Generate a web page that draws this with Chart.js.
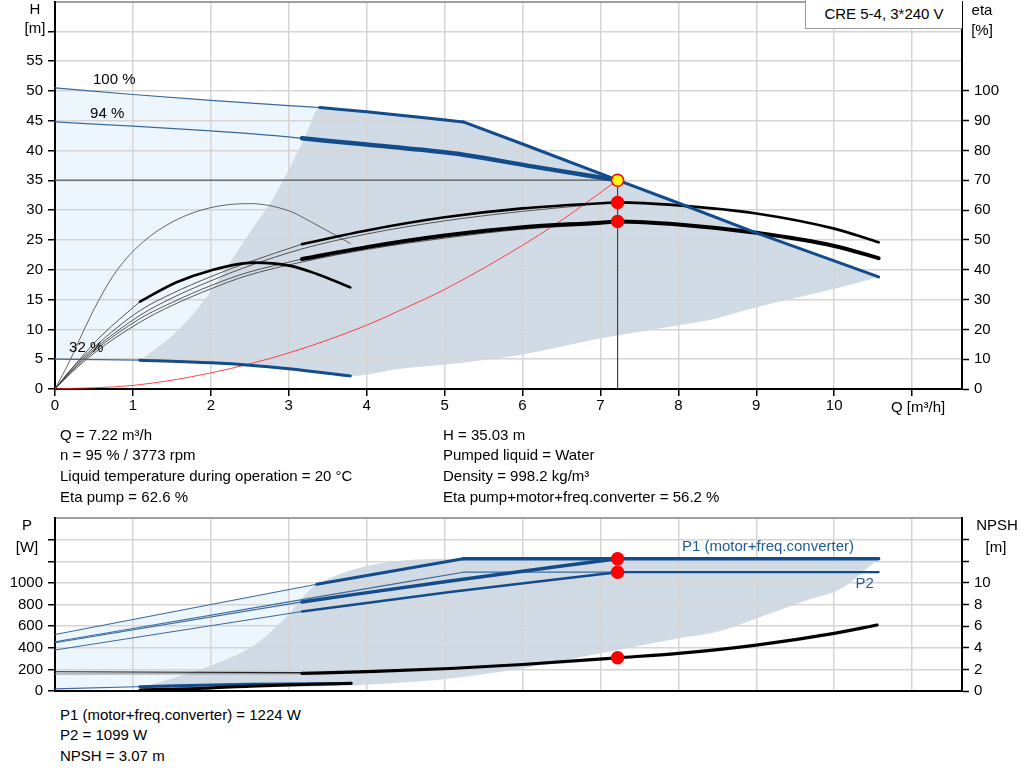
<!DOCTYPE html>
<html><head><meta charset="utf-8">
<script src="https://cdn.jsdelivr.net/npm/chart.js@4.4.1/dist/chart.umd.min.js"></script>
<style>
html,body{margin:0;padding:0;background:#fff;width:1024px;height:781px;overflow:hidden;font-family:"Liberation Sans",Arial,sans-serif;}
canvas{position:absolute;left:0;display:block;}
#top{top:-6px;}
#bot{top:510px;}
.t{position:absolute;font-size:15px;color:#000;white-space:nowrap;line-height:18px;}
.c{text-align:center;}
#box{position:absolute;left:805px;top:0;width:156px;height:28px;border:1px solid #9a9a9a;border-top:none;border-right:none;background:#fff;font-size:15px;line-height:28px;text-align:center;z-index:3;}
</style></head><body>
<canvas id="top" width="1024" height="435" style="width:1024px;height:435px"></canvas>
<canvas id="bot" width="1024" height="190" style="width:1024px;height:190px"></canvas>
<div id="box">CRE 5-4, 3*240 V</div>
<div class="t c" style="left:15px;top:0px;width:40px">H</div>
<div class="t c" style="left:15px;top:19px;width:40px">[m]</div>
<div class="t c" style="left:962px;top:1px;width:40px">eta</div>
<div class="t c" style="left:962px;top:21px;width:40px">[%]</div>
<div class="t" style="left:891px;top:398px">Q [m³/h]</div>
<div class="t" style="left:60px;top:426px">Q = 7.22 m³/h</div>
<div class="t" style="left:60px;top:446px">n = 95 % / 3773 rpm</div>
<div class="t" style="left:60px;top:467px">Liquid temperature during operation = 20 °C</div>
<div class="t" style="left:60px;top:488px">Eta pump = 62.6 %</div>
<div class="t" style="left:443px;top:426px">H = 35.03 m</div>
<div class="t" style="left:443px;top:446px">Pumped liquid = Water</div>
<div class="t" style="left:443px;top:467px">Density = 998.2 kg/m³</div>
<div class="t" style="left:443px;top:488px">Eta pump+motor+freq.converter = 56.2 %</div>
<div class="t c" style="left:7px;top:516px;width:40px">P</div>
<div class="t c" style="left:7px;top:538px;width:40px">[W]</div>
<div class="t c" style="left:972px;top:516px;width:50px">NPSH</div>
<div class="t c" style="left:971px;top:538px;width:50px">[m]</div>
<div class="t" style="left:60px;top:706px">P1 (motor+freq.converter) = 1224 W</div>
<div class="t" style="left:60px;top:726px">P2 = 1099 W</div>
<div class="t" style="left:60px;top:747px">NPSH = 3.07 m</div>
<script>
// ================= DATA =================
// --- top chart: head H [m] vs flow Q [m3/h] ---
const speed100Q = [0, 1, 2, 3, 3.4, 4, 5.24];
const speed100H = [50.5, 49.4, 48.4, 47.55, 47.2, 46.5, 44.8];
const limitQ = [5.24, 6, 7.22, 8, 9, 10, 10.57];
const limitH = [44.8, 41.1, 35.03, 31.2, 26.2, 21.5, 18.8];
const speed94Q = [0, 1, 2, 3, 3.17, 4, 5, 5.24, 6.14, 7.22];
const speed94H = [44.8, 44.1, 43.3, 42.3, 42.05, 41.0, 39.7, 39.3, 37.3, 35.03];
const speed32Q = [0, 1.09, 2, 2.5, 3, 3.79];
const speed32H = [5.0, 4.83, 4.4, 4.0, 3.4, 2.2];
const minSpeedQ = [1.09, 1.5, 1.85, 2.1, 2.46, 2.8, 2.93, 3.2, 3.4];
const minSpeedH = [4.83, 8.9, 13.8, 18.3, 25.5, 32, 35, 42, 47.2];
const lowerQ = [3.79, 4.43, 5, 6, 7, 8, 8.47, 9, 10, 10.57];
const lowerH = [2.2, 3.4, 4.1, 5.8, 8.5, 10.7, 11.8, 13.7, 16.8, 18.8];
const systemQ = [0, 1, 2, 3, 4, 4.43, 5, 6, 6.5, 7.22];
const systemH = [0, 0.6, 2.7, 6.05, 10.7, 13.2, 16.7, 24.1, 28.3, 35.03];
// efficiency eta [%]
const etaPumpQ = [3.17, 4, 5, 6, 7, 7.22, 8, 9, 10, 10.57];
const etaPump = [48.6, 53.2, 57.6, 60.6, 62.3, 62.6, 61.6, 58.9, 53.8, 49.2];
const etaPumpThinQ = [0, 0.2, 0.5, 1.09, 1.5, 2, 2.46, 3.17];
const etaPumpThin = [0, 6.4, 14, 26.3, 32, 37.7, 42.3, 48.6];
const etaPump94Q = [0, 0.2, 0.5, 1.09, 1.5, 2, 2.46, 3.17, 4, 5, 6, 6.8];
const etaPump94 = [0, 6, 13.3, 24.7, 30.5, 36.3, 41, 47, 52, 56.4, 59.6, 61.6];
const etaTotalQ = [3.17, 4, 5, 6, 7, 7.22, 8, 9, 10, 10.57];
const etaTotal = [43.6, 47.6, 51.5, 54.3, 55.8, 56.2, 55.2, 52.4, 48, 43.9];
const etaTotalThinQ = [0, 0.2, 0.5, 1.09, 1.5, 2, 2.46, 3.17];
const etaTotalThin = [0, 5.6, 12.7, 23.6, 29, 34.7, 39, 43.6];
const etaTotal94Q = [0, 0.2, 0.5, 1.09, 1.5, 2, 2.46, 3.17, 4, 5, 6, 7];
const etaTotal94 = [0, 5.2, 12, 22.4, 28, 33.6, 38, 42.6, 46.8, 50.6, 53.6, 55.2];
const eta32PumpQ = [0, 0.2, 0.35, 0.56, 0.8, 1.12, 1.54, 1.99, 2.5, 3.0, 3.27, 3.79];
const eta32Pump = [0, 10, 18.6, 29.7, 40, 49.1, 56.5, 60.8, 62.2, 59.8, 56.3, 48.8];
const eta32TotalQ = [1.09, 1.56, 1.99, 2.55, 3.02, 3.36, 3.79];
const eta32Total = [29.3, 35.8, 39.7, 42.4, 41.3, 38.6, 34.1];
const eta32TotalThinQ = [0, 0.3, 0.6, 1.09];
const eta32TotalThin = [0, 9.5, 18, 29.3];
// duty point
const dutyQ = 7.22, dutyH = 35.03, dutyEtaPump = 62.6, dutyEtaTotal = 56.2;
const curveLabels = ['100 %', '94 %', '32 %'];
const curveLabelQ = [0.76, 0.67, 0.40];
const curveLabelH = [51.8, 46.1, 6.85];

// --- bottom chart: power P [W] and NPSH [m] vs Q ---
const p1Speed100Q = [0, 1.5, 3.36, 5.24];
const p1Speed100 = [523, 730, 988, 1224];
const p1LimitQ = [5.24, 10.57];
const p1Limit = [1224, 1224];
const p2Speed100Q = [0, 3.17, 5.24];
const p2Speed100 = [455, 845, 1099];
const p2LimitQ = [5.24, 7.22, 10.57];
const p2Limit = [1099, 1099, 1099];
const p1Speed94Q = [0, 3.17, 5.07, 7.22];
const p1Speed94 = [446, 824, 1018, 1224];
const p2Speed94Q = [0, 3.17, 5.07, 7.22];
const p2Speed94 = [379, 735, 915, 1099];
const p1Speed32Q = [0, 1.09, 2.5, 3.8];
const p1Speed32 = [20, 40, 62, 70];
const minSpeedPQ = [1.09, 1.43, 2.07, 2.59, 2.97, 3.36];
const minSpeedP = [25, 100, 255, 440, 686, 988];
const minPowerQ = [0, 1.09, 2.5, 3.8];
const minPower = [12, 25, 35, 50];
const lowerPQ = [3.8, 4.5, 5.07, 6, 7, 8, 8.5, 9, 9.65, 10.07, 10.57];
const lowerP = [50, 80, 115, 210, 348, 487, 548, 671, 840, 940, 1224];
const npshQ = [3.17, 4, 5.07, 6, 7.22, 8, 9, 10, 10.55];
const npsh = [1.63, 1.8, 2.08, 2.45, 3.07, 3.48, 4.25, 5.33, 6.1];
const npshThinQ = [0, 3.17];
const npshThin = [1.78, 1.7];
const npshThin2 = [1.57, 1.6];
const npsh32Q = [1.09, 2, 2.5, 3.2, 3.8];
const npsh32 = [0.1, 0.28, 0.45, 0.6, 0.72];
const dutyP1 = 1224, dutyP2 = 1099, dutyNpsh = 3.07;
const powerLabels = ['P1 (motor+freq.converter)', 'P2'];
const powerLabelQ = [9.15, 10.39];
const powerLabelP = [1332, 990];

// ================= HELPERS =================
const F = '"Liberation Sans", Arial, sans-serif';
Chart.defaults.font.family = F;
Chart.defaults.font.size = 15;
Chart.defaults.color = '#000';
Chart.defaults.animation = false;

const BLUE = '#124c8a', BLUE_T = '#3a6a9c', BLACK = '#000', THIN = '#444';
const GRID = '#d5d5d5', LIGHT = '#eef6fd', GREY = '#d0dbe6';

function pts(q, v) { return q.map((x, i) => ({ x: x, y: v[i] })); }
function ln(data, color, width, axis, extra) {
  return Object.assign({ type: 'line', data: data, borderColor: color, borderWidth: width,
    pointRadius: 0, pointHoverRadius: 0, fill: false, yAxisID: axis,
    cubicInterpolationMode: 'monotone', borderCapStyle: 'round', borderJoinStyle: 'round' }, extra || {});
}
function dot(x, y, axis, bg, bc) {
  return { type: 'line', data: [{ x: x, y: y }], showLine: false, pointRadius: 6, pointBorderWidth: 1.5,
    pointBackgroundColor: bg, pointBorderColor: bc, backgroundColor: bg, borderColor: bc, fill: false, yAxisID: axis, order: -1 };
}
function textPlugin(texts, qs, vs, axis, color) {
  return { id: 'txt', afterDatasetsDraw(chart) {
    const ctx = chart.ctx, xs = chart.scales.x, ys = chart.scales[axis];
    ctx.save(); ctx.font = '15px ' + F; ctx.fillStyle = color;
    ctx.textAlign = 'center'; ctx.textBaseline = 'middle';
    texts.forEach((t, i) => ctx.fillText(t, xs.getPixelForValue(qs[i]), ys.getPixelForValue(vs[i])));
    ctx.restore();
  } };
}
function noPad(s) { s.paddingTop = 0; s.paddingBottom = 0; s.paddingLeft = 0; s.paddingRight = 0; }
function xScale(h, showTicks) {
  return { type: 'linear', min: 0, max: 11.64, position: 'bottom',
    ticks: { display: showTicks, stepSize: 1, includeBounds: false, autoSkip: false, maxRotation: 0, padding: 1,
      callback: v => (v === 11 ? '' : String(v)) },
    grid: { color: GRID, lineWidth: 1.5, drawTicks: showTicks, tickLength: 7, tickColor: '#000', tickWidth: 1.5 },
    border: { color: '#000', width: 2 },
    afterFit: s => { s.height = h; noPad(s); } };
}
function yScale(pos, max, step, labelMax, tickMax, w, grid) {
  return { type: 'linear', position: pos, min: 0, max: max,
    ticks: { stepSize: step, includeBounds: false, autoSkip: false, padding: 5,
      callback: v => (v <= labelMax ? String(v) : '') },
    grid: grid ? { color: c => (c.tick && c.tick.value >= max ? '#a0a0a0' : GRID), lineWidth: c => (c.tick && c.tick.value >= max ? 2 : 1.5),
      tickLength: 7, tickWidth: 1.5, tickColor: c => (c.tick && c.tick.value <= tickMax ? '#000' : 'rgba(0,0,0,0)') }
      : { drawOnChartArea: false, tickLength: 7, tickWidth: 1.5, tickColor: c => (c.tick && c.tick.value <= tickMax ? '#000' : 'rgba(0,0,0,0)') },
    border: { color: '#000', width: 2 },
    afterFit: s => { s.width = w; noPad(s); } };
}

// ================= TOP CHART =================
const s100 = pts(speed100Q, speed100H);
const lim = pts(limitQ, limitH);
const s94 = pts(speed94Q, speed94H);
const s32 = pts(speed32Q, speed32H);
const topDs = [
  dot(dutyQ, dutyH, 'y', '#ffff00', '#ff0000'),
  dot(dutyQ, dutyEtaPump, 'yEta', '#ff0000', '#ff0000'),
  dot(dutyQ, dutyEtaTotal, 'yEta', '#ff0000', '#ff0000'),
  ln(s94.filter(p => p.x >= 3.17), BLUE, 4.5, 'y'),
  ln(s100.filter(p => p.x >= 3.4), BLUE, 3, 'y'),
  ln(lim, BLUE, 3, 'y', { tension: 0, cubicInterpolationMode: 'default' }),
  ln(s32.filter(p => p.x >= 1.09), BLUE, 3, 'y'),
  ln(pts(etaPumpQ, etaPump), BLACK, 2.6, 'yEta'),
  ln(pts(etaTotalQ, etaTotal), BLACK, 4, 'yEta'),
  ln(pts(eta32TotalQ, eta32Total), BLACK, 2.6, 'yEta'),
  ln([{ x: 0, y: dutyH }, { x: dutyQ, y: dutyH }], '#555', 1.2, 'y', { tension: 0 }),
  ln([{ x: dutyQ, y: 0 }, { x: dutyQ, y: dutyH }], '#444', 1.2, 'y', { tension: 0 }),
  ln(pts(systemQ, systemH), 'rgba(255,40,40,0.85)', 1, 'y'),
  ln(s100.filter(p => p.x <= 3.4), BLUE_T, 1.2, 'y'),
  ln(s94.filter(p => p.x <= 3.17), BLUE_T, 1.2, 'y'),
  ln(s32.filter(p => p.x <= 1.09), BLUE_T, 1.2, 'y'),
  ln(pts(etaPumpThinQ, etaPumpThin), THIN, 0.9, 'yEta'),
  ln(pts(etaPump94Q, etaPump94), THIN, 0.9, 'yEta'),
  ln(pts(etaTotalThinQ, etaTotalThin), THIN, 0.9, 'yEta'),
  ln(pts(etaTotal94Q, etaTotal94), THIN, 0.9, 'yEta'),
  ln(pts(eta32PumpQ, eta32Pump), '#555', 0.9, 'yEta'),
  ln(pts(eta32TotalThinQ, eta32TotalThin), THIN, 0.9, 'yEta')
];
// fill regions (drawn underneath the grid)
const gTopIdx = topDs.length;
topDs.push(ln(pts(minSpeedQ, minSpeedH).concat(s100.filter(p => p.x > 3.4), lim.slice(1)), 'rgba(0,0,0,0)', 0, 'y',
  { fill: gTopIdx + 1, backgroundColor: GREY, order: 4 }));
topDs.push(ln(s32.filter(p => p.x >= 1.09).concat(pts(lowerQ, lowerH).slice(1)), 'rgba(0,0,0,0)', 0, 'y', { order: 4 }));
const eTopIdx = topDs.length;
topDs.push(ln(s100.concat(lim.slice(1)), 'rgba(0,0,0,0)', 0, 'y', { fill: eTopIdx + 1, backgroundColor: LIGHT, order: 5 }));
topDs.push(ln(s32.concat(pts(lowerQ, lowerH).slice(1)), 'rgba(0,0,0,0)', 0, 'y', { order: 5 }));

new Chart(document.getElementById('top'), {
  type: 'line',
  data: { datasets: topDs },
  options: {
    responsive: false, animation: false, events: [],
    layout: { padding: { top: 1, left: 0, right: 0, bottom: 0 } },
    plugins: { legend: { display: false }, tooltip: { enabled: false }, filler: { drawTime: 'beforeDraw' } },
    scales: {
      x: xScale(40, true),
      y: yScale('left', 65, 5, 55, 60, 55, true),
      yEta: yScale('right', 130, 10, 100, 100, 62, false)
    }
  },
  plugins: [textPlugin(curveLabels, curveLabelQ, curveLabelH, 'y', '#000')]
});

// ================= BOTTOM CHART =================
const p1s100 = pts(p1Speed100Q, p1Speed100);
const p1lim = pts(p1LimitQ, p1Limit);
const p2lim = pts(p2LimitQ, p2Limit);
const p1s94 = pts(p1Speed94Q, p1Speed94);
const p2s94 = pts(p2Speed94Q, p2Speed94);
const p1s32 = pts(p1Speed32Q, p1Speed32);
const botDs = [
  dot(dutyQ, dutyP1, 'y', '#ff0000', '#ff0000'),
  dot(dutyQ, dutyP2, 'y', '#ff0000', '#ff0000'),
  dot(dutyQ, dutyNpsh, 'yN', '#ff0000', '#ff0000'),
  ln(p1s100.filter(p => p.x >= 3.36), BLUE, 3, 'y'),
  ln(p1lim, BLUE, 3.5, 'y', { tension: 0 }),
  ln(p2lim.filter(p => p.x >= 7.22), BLUE, 2.2, 'y', { tension: 0 }),
  ln(p1s94.filter(p => p.x >= 3.17), BLUE, 3.5, 'y'),
  ln(p2s94.filter(p => p.x >= 3.17), BLUE, 2.6, 'y'),
  ln(pts(npshQ, npsh), BLACK, 3.2, 'yN'),
  ln(pts(npsh32Q, npsh32), BLACK, 3, 'yN'),
  ln(p1s32.filter(p => p.x >= 1.09), BLUE, 3, 'y'),
  ln(p1s100.filter(p => p.x <= 3.36), BLUE_T, 1.1, 'y'),
  ln(pts(p2Speed100Q, p2Speed100), BLUE_T, 1.1, 'y'),
  ln(p2lim.filter(p => p.x <= 7.22), BLUE_T, 1.1, 'y', { tension: 0 }),
  ln(p1s94.filter(p => p.x <= 3.17), BLUE_T, 1.1, 'y'),
  ln(p2s94.filter(p => p.x <= 3.17), BLUE_T, 1.1, 'y'),
  ln(p1s32.filter(p => p.x <= 1.09), BLUE_T, 1.1, 'y'),
  ln(pts(npshThinQ, npshThin), '#222', 1.1, 'yN', { tension: 0 }),
  ln(pts(npshThinQ, npshThin2), '#888', 1.1, 'yN', { tension: 0 })
];
const bgTopIdx = botDs.length;
botDs.push(ln(pts(minSpeedPQ, minSpeedP).concat(p1s100.filter(p => p.x > 3.36), p1lim.slice(1)), 'rgba(0,0,0,0)', 0, 'y',
  { fill: bgTopIdx + 1, backgroundColor: GREY, order: 4 }));
botDs.push(ln(pts(minPowerQ, minPower).filter(p => p.x >= 1.09).concat(pts(lowerPQ, lowerP).slice(1)), 'rgba(0,0,0,0)', 0, 'y', { order: 4 }));
const beTopIdx = botDs.length;
botDs.push(ln(p1s100.concat(p1lim.slice(1)), 'rgba(0,0,0,0)', 0, 'y', { fill: beTopIdx + 1, backgroundColor: LIGHT, order: 5 }));
botDs.push(ln(pts(minPowerQ, minPower).concat(pts(lowerPQ, lowerP).slice(1)), 'rgba(0,0,0,0)', 0, 'y', { order: 5 }));

new Chart(document.getElementById('bot'), {
  type: 'line',
  data: { datasets: botDs },
  options: {
    responsive: false, animation: false, events: [],
    layout: { padding: { top: 8, left: 0, right: 0, bottom: 0 } },
    plugins: { legend: { display: false }, tooltip: { enabled: false }, filler: { drawTime: 'beforeDraw' } },
    scales: {
      x: xScale(9, false),
      y: yScale('left', 1600, 200, 1000, 1400, 55, true),
      yN: yScale('right', 16, 2, 10, 14, 62, false)
    }
  },
  plugins: [textPlugin(powerLabels, powerLabelQ, powerLabelP, 'y', '#1f5a96')]
});
</script>
</body></html>
